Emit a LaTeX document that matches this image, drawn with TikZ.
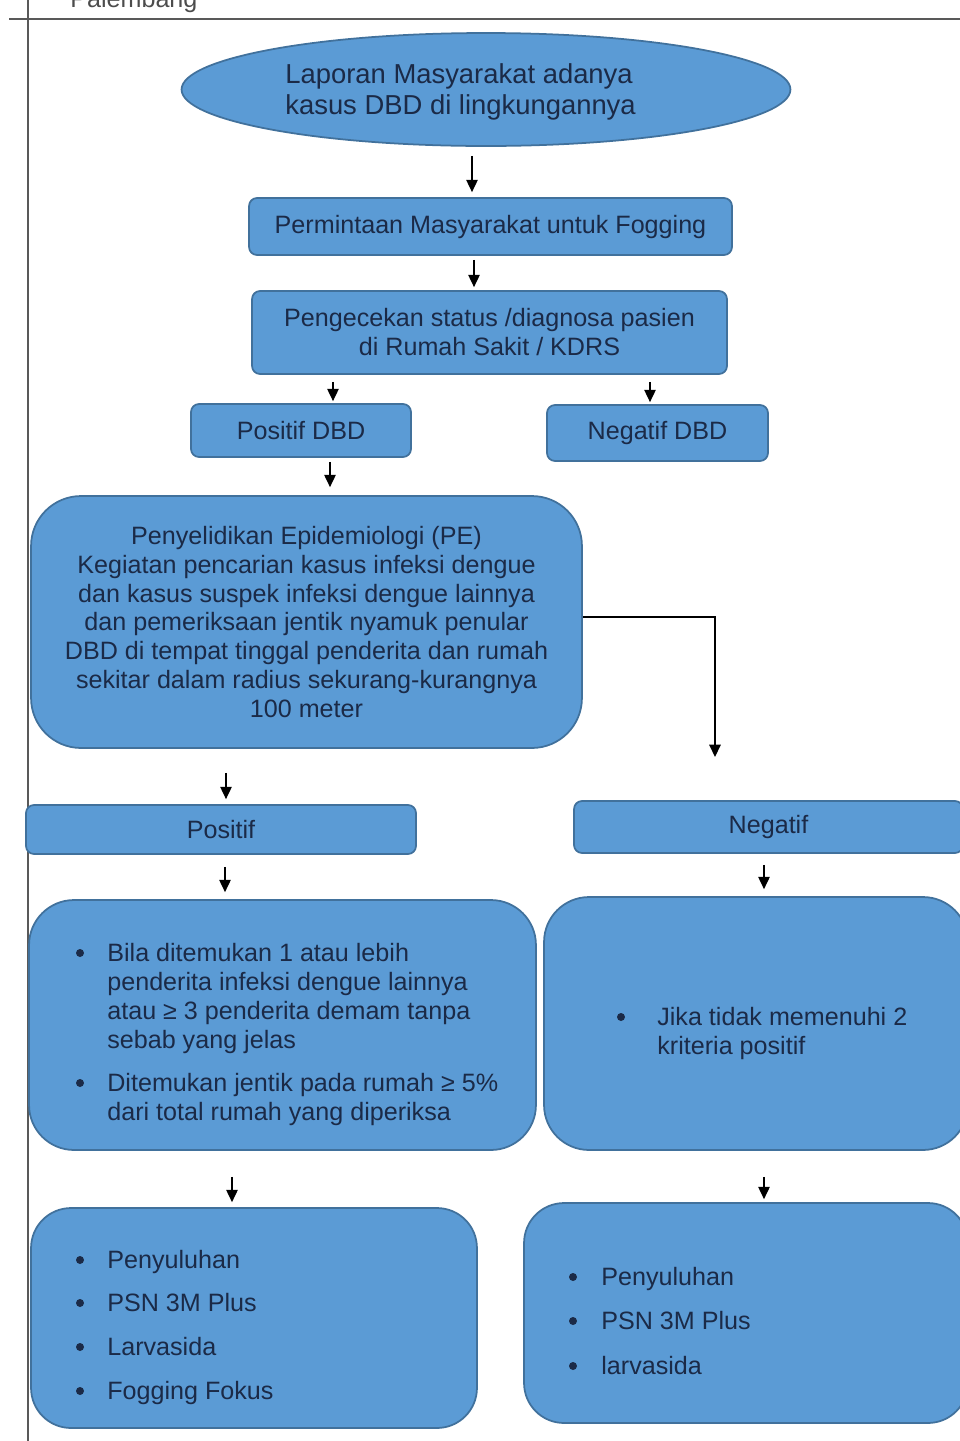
\documentclass[tikz,border=0pt]{standalone}
\usepackage{fontspec}
\setmainfont{Liberation Sans}
\usepackage{tikz}
\usetikzlibrary{arrows.meta, shapes.geometric}
\definecolor{boxfill}{HTML}{5B9BD5}
\definecolor{boxline}{HTML}{41719C}
\definecolor{boxtext}{HTML}{1B2A47}

\begin{document}
\begin{tikzpicture}[x=0.02cm, y=-0.02cm]
\tikzstyle{block}=[draw=boxline, fill=boxfill, line width=1pt, text=boxtext, font=\fontsize{14.3}{16.5}\selectfont, align=center, inner sep=0pt]
\tikzstyle{card}=[block, rectangle, rounded corners=0.16cm]
\tikzstyle{arr}=[-{Triangle[width=6.5pt,length=7pt]}, line width=0.8pt]
\tikzstyle{item}=[anchor=base west, inner sep=0pt, text=boxtext, font=\fontsize{14.3}{16.5}\selectfont, align=left]
\tikzstyle{dot}=[fill=boxtext]

\useasboundingbox (0,0) rectangle (960,1441);

% page frame
\draw[black!65, line width=0.9pt] (9,19) -- (960,19);
\draw[black!65, line width=0.9pt] (28,0) -- (28,1441);
\node[anchor=base west, inner sep=0pt, text=black!70, font=\fontsize{14.3}{16.5}\selectfont] (kota) at (70,7) {Palembang};

% boxes
\node[ellipse, block, minimum width=12.18cm, minimum height=2.26cm] (lapor) at (486,89.5) {};
\node[anchor=north west, inner sep=0pt, text=boxtext, align=left, font=\fontsize{15.6}{17.6}\selectfont] (laportxt) at (285,63) {Laporan Masyarakat adanya\\kasus DBD di lingkungannya};
\node[card, minimum width=9.66cm, minimum height=1.14cm] (minta) at (490.5,226.5) {Permintaan Masyarakat untuk Fogging};
\node[card, minimum width=9.5cm, minimum height=1.66cm] (cek) at (489.5,332.5) {Pengecekan status /diagnosa pasien\\di Rumah Sakit / KDRS};
\node[card, minimum width=4.4cm, minimum height=1.06cm] (posdbd) at (301,430.5) {Positif DBD};
\node[card, minimum width=4.42cm, minimum height=1.12cm] (negdbd) at (657.5,433) {Negatif DBD};
\node[block, rectangle, rounded corners=1cm, minimum width=11.02cm, minimum height=5.04cm] (pe) at (306.5,622) {Penyelidikan Epidemiologi (PE)\\Kegiatan pencarian kasus infeksi dengue\\dan kasus suspek infeksi dengue lainnya\\dan pemeriksaan jentik nyamuk penular\\DBD di tempat tinggal penderita dan rumah\\sekitar dalam radius sekurang-kurangnya\\100 meter};
\node[card, minimum width=7.8cm, minimum height=0.98cm] (pos) at (221,829.5) {Positif};
\node[card, minimum width=7.78cm, minimum height=1.04cm] (neg) at (768.5,827) {Negatif};
\node[block, rectangle, rounded corners=0.9cm, minimum width=10.14cm, minimum height=5cm] (kritpos) at (282.5,1025) {};
\node[block, rectangle, rounded corners=0.9cm, minimum width=8.48cm, minimum height=5.06cm] (kritneg) at (756,1023.5) {};
\node[block, rectangle, rounded corners=0.8cm, minimum width=8.92cm, minimum height=4.4cm] (aksipos) at (254,1318) {};
\node[block, rectangle, rounded corners=0.8cm, minimum width=8.88cm, minimum height=4.4cm] (aksineg) at (746,1313) {};

% bullet texts
\fill[dot] (80,953) circle[radius=0.08cm];
\node[item, anchor=north west] (kp1) at (107,943) {Bila ditemukan 1 atau lebih\\penderita infeksi dengue lainnya\\atau ≥ 3 penderita demam tanpa\\sebab yang jelas};
\fill[dot] (80,1083) circle[radius=0.08cm];
\node[item, anchor=north west] (kp2) at (107,1073) {Ditemukan jentik pada rumah ≥ 5\%\\dari total rumah yang diperiksa};
\fill[dot] (621,1017) circle[radius=0.08cm];
\node[item, anchor=north west] (kn1) at (657,1007) {Jika tidak memenuhi 2\\kriteria positif};

\foreach \yy/\txt in {1260/Penyuluhan, 1303/PSN 3M Plus, 1347/Larvasida, 1391/Fogging Fokus}{
  \fill[dot] (80,\yy) circle[radius=0.08cm];
  \node[item] (ap\yy) at (107,\yy+8) {\txt};
}
\foreach \yy/\txt in {1277/Penyuluhan, 1321/PSN 3M Plus, 1366/larvasida}{
  \fill[dot] (573,\yy) circle[radius=0.08cm];
  \node[item] (an\yy) at (601,\yy+8) {\txt};
}

% arrows
\draw[arr, shorten <=0.18cm, shorten >=0.1cm] ([xshift=-0.28cm]lapor.south) -- ([xshift=-0.28cm]lapor.south |- minta.north);
\draw[arr, shorten <=0.08cm, shorten >=0.06cm] ([xshift=-0.33cm]minta.south) -- ([xshift=-0.33cm]minta.south |- cek.north);
\draw[arr, shorten <=0.14cm, shorten >=0.04cm] ([xshift=0.64cm]posdbd.north |- cek.south) -- ([xshift=0.64cm]posdbd.north);
\draw[arr, shorten <=0.14cm, shorten >=0.04cm] ([xshift=-0.15cm]negdbd.north |- cek.south) -- ([xshift=-0.15cm]negdbd.north);
\draw[arr, shorten <=0.08cm, shorten >=0.16cm] ([xshift=0.58cm]posdbd.south) -- ([xshift=0.58cm]posdbd.south |- pe.north);
\draw[arr, shorten <=0.48cm, shorten >=0.1cm] ([xshift=0.1cm]pos.north |- pe.south) -- ([xshift=0.1cm]pos.north);
\coordinate (negjatuh) at (715,757);
\draw[arr] ([yshift=0.1cm]pe.east) -| (negjatuh);
\draw[arr, shorten <=0.24cm, shorten >=0.14cm] ([xshift=0.08cm]pos.south) -- ([xshift=0.08cm]pos.south |- kritpos.north);
\draw[arr, shorten <=0.22cm, shorten >=0.14cm] ([xshift=-0.09cm]neg.south) -- ([xshift=-0.09cm]neg.south |- kritneg.north);
\draw[arr, shorten <=0.52cm, shorten >=0.1cm] ([xshift=-0.44cm]aksipos.north |- kritpos.south) -- ([xshift=-0.44cm]aksipos.north);
\draw[arr, shorten <=0.52cm, shorten >=0.06cm] ([xshift=0.36cm]aksineg.north |- kritneg.south) -- ([xshift=0.36cm]aksineg.north);
\end{tikzpicture}
\end{document}
